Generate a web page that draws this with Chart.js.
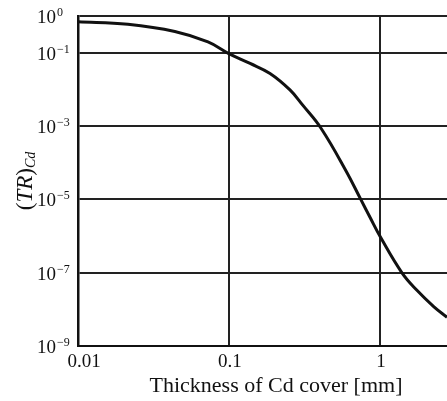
<!DOCTYPE html>
<html>
<head>
<meta charset="utf-8">
<script src="https://cdn.jsdelivr.net/npm/chart.js@4/dist/chart.umd.min.js"></script>
<style>
  html, body { margin: 0; padding: 0; background: #fff; overflow: hidden; }
  #wrap { width: 447px; height: 401px; }
</style>
</head>
<body>
<div id="wrap"><canvas id="cdChart"></canvas></div>
<script>
// thickness of the Cd cover [mm] and transmission (TR)Cd
const thicknessMm = [0.01, 0.0214, 0.0438, 0.0726, 0.099, 0.138, 0.187, 0.2535, 0.309, 0.407, 0.595, 0.745, 0.859, 1.005, 1.399, 1.758, 2.279, 2.78];
const transmission = [0.70, 0.594, 0.378, 0.196, 0.096, 0.0508, 0.0271, 0.00963, 0.00364, 8.7e-4, 6.05e-5, 1.01e-5, 3.24e-6, 9.5e-7, 9.9e-8, 3.3e-8, 1.17e-8, 6.1e-9];

const xTicks = [0.01, 0.1, 1];
const xTickLabels = ['0.01', '0.1', '1'];
const yTicks = [1, 1e-1, 1e-3, 1e-5, 1e-7, 1e-9];
const yTickExponents = ['0', '\u22121', '\u22123', '\u22125', '\u22127', '\u22129'];

const serif = '"Liberation Serif", "Times New Roman", serif';

// axis labels drawn by hand so the powers of ten and the subscript look right
const labelPlugin = {
    id: 'labels',
    afterDraw(chart) {
        const ctx = chart.ctx;
        const xs = chart.scales.x;
        const ys = chart.scales.y;
        ctx.save();
        ctx.fillStyle = '#111';
        ctx.textBaseline = 'alphabetic';

        // y ticks: 10 with superscript exponent
        yTicks.forEach(function (v, i) {
            const py = ys.getPixelForValue(v);
            ctx.font = '19px ' + serif;
            ctx.textAlign = 'left';
            ctx.fillText('10', 37, py + 7);
            const w = ctx.measureText('10').width;
            ctx.font = '12px ' + serif;
            ctx.fillText(yTickExponents[i], 37 + w + 1, py + 0);
        });

        // x ticks
        ctx.font = '19px ' + serif;
        ctx.textAlign = 'center';
        xTicks.forEach(function (v, i) {
            const px = xs.getPixelForValue(v);
            ctx.fillText(xTickLabels[i], px + (i === 0 ? 6 : 1), 367);
        });

        // x title
        ctx.font = '22px ' + serif;
        ctx.fillText('Thickness of Cd cover [mm]', 276, 392);

        // y title (TR)Cd, rotated
        ctx.translate(32, 181);
        ctx.rotate(-Math.PI / 2);
        const parts = [
            { t: '(', f: '23px ' + serif, dy: 0 },
            { t: 'TR', f: 'italic 23px ' + serif, dy: 0 },
            { t: ')', f: '23px ' + serif, dy: 0 },
            { t: 'Cd', f: 'italic 14px ' + serif, dy: 3 }
        ];
        let total = 0;
        parts.forEach(function (p) { ctx.font = p.f; total += ctx.measureText(p.t).width; });
        let cx = -total / 2;
        ctx.textAlign = 'left';
        parts.forEach(function (p) {
            ctx.font = p.f;
            ctx.fillText(p.t, cx, p.dy);
            cx += ctx.measureText(p.t).width;
        });
        ctx.restore();
    }
};

const ctx = document.getElementById('cdChart').getContext('2d');
const cdChart = new Chart(ctx, {
    type: 'scatter',
    data: {
        datasets: [{
            data: thicknessMm.map((x, i) => ({ x: x, y: transmission[i] })),
            showLine: true,
            borderColor: '#111',
            borderWidth: 3,
            pointRadius: 0,
            tension: 0.4
        }]
    },
    options: {
        responsive: true,
        maintainAspectRatio: false,
        animation: false,
        layout: {
            padding: { left: 78, top: 16, right: 0, bottom: 55 }
        },
        plugins: {
            legend: { display: false },
            tooltip: { enabled: false }
        },
        scales: {
            x: {
                type: 'logarithmic',
                min: 0.01,
                max: 2.78,
                afterBuildTicks: function (scale) {
                    scale.ticks = xTicks.map(v => ({ value: v }));
                },
                ticks: { display: false },
                grid: { color: '#222', lineWidth: 2, drawTicks: false },
                border: { color: '#111', width: 2 }
            },
            y: {
                type: 'logarithmic',
                min: 1e-9,
                max: 1,
                afterBuildTicks: function (scale) {
                    scale.ticks = yTicks.map(v => ({ value: v }));
                },
                ticks: { display: false },
                grid: { color: '#222', lineWidth: 2, drawTicks: false },
                border: { color: '#111', width: 2.5 }
            }
        }
    },
    plugins: [labelPlugin]
});
</script>
</body>
</html>
